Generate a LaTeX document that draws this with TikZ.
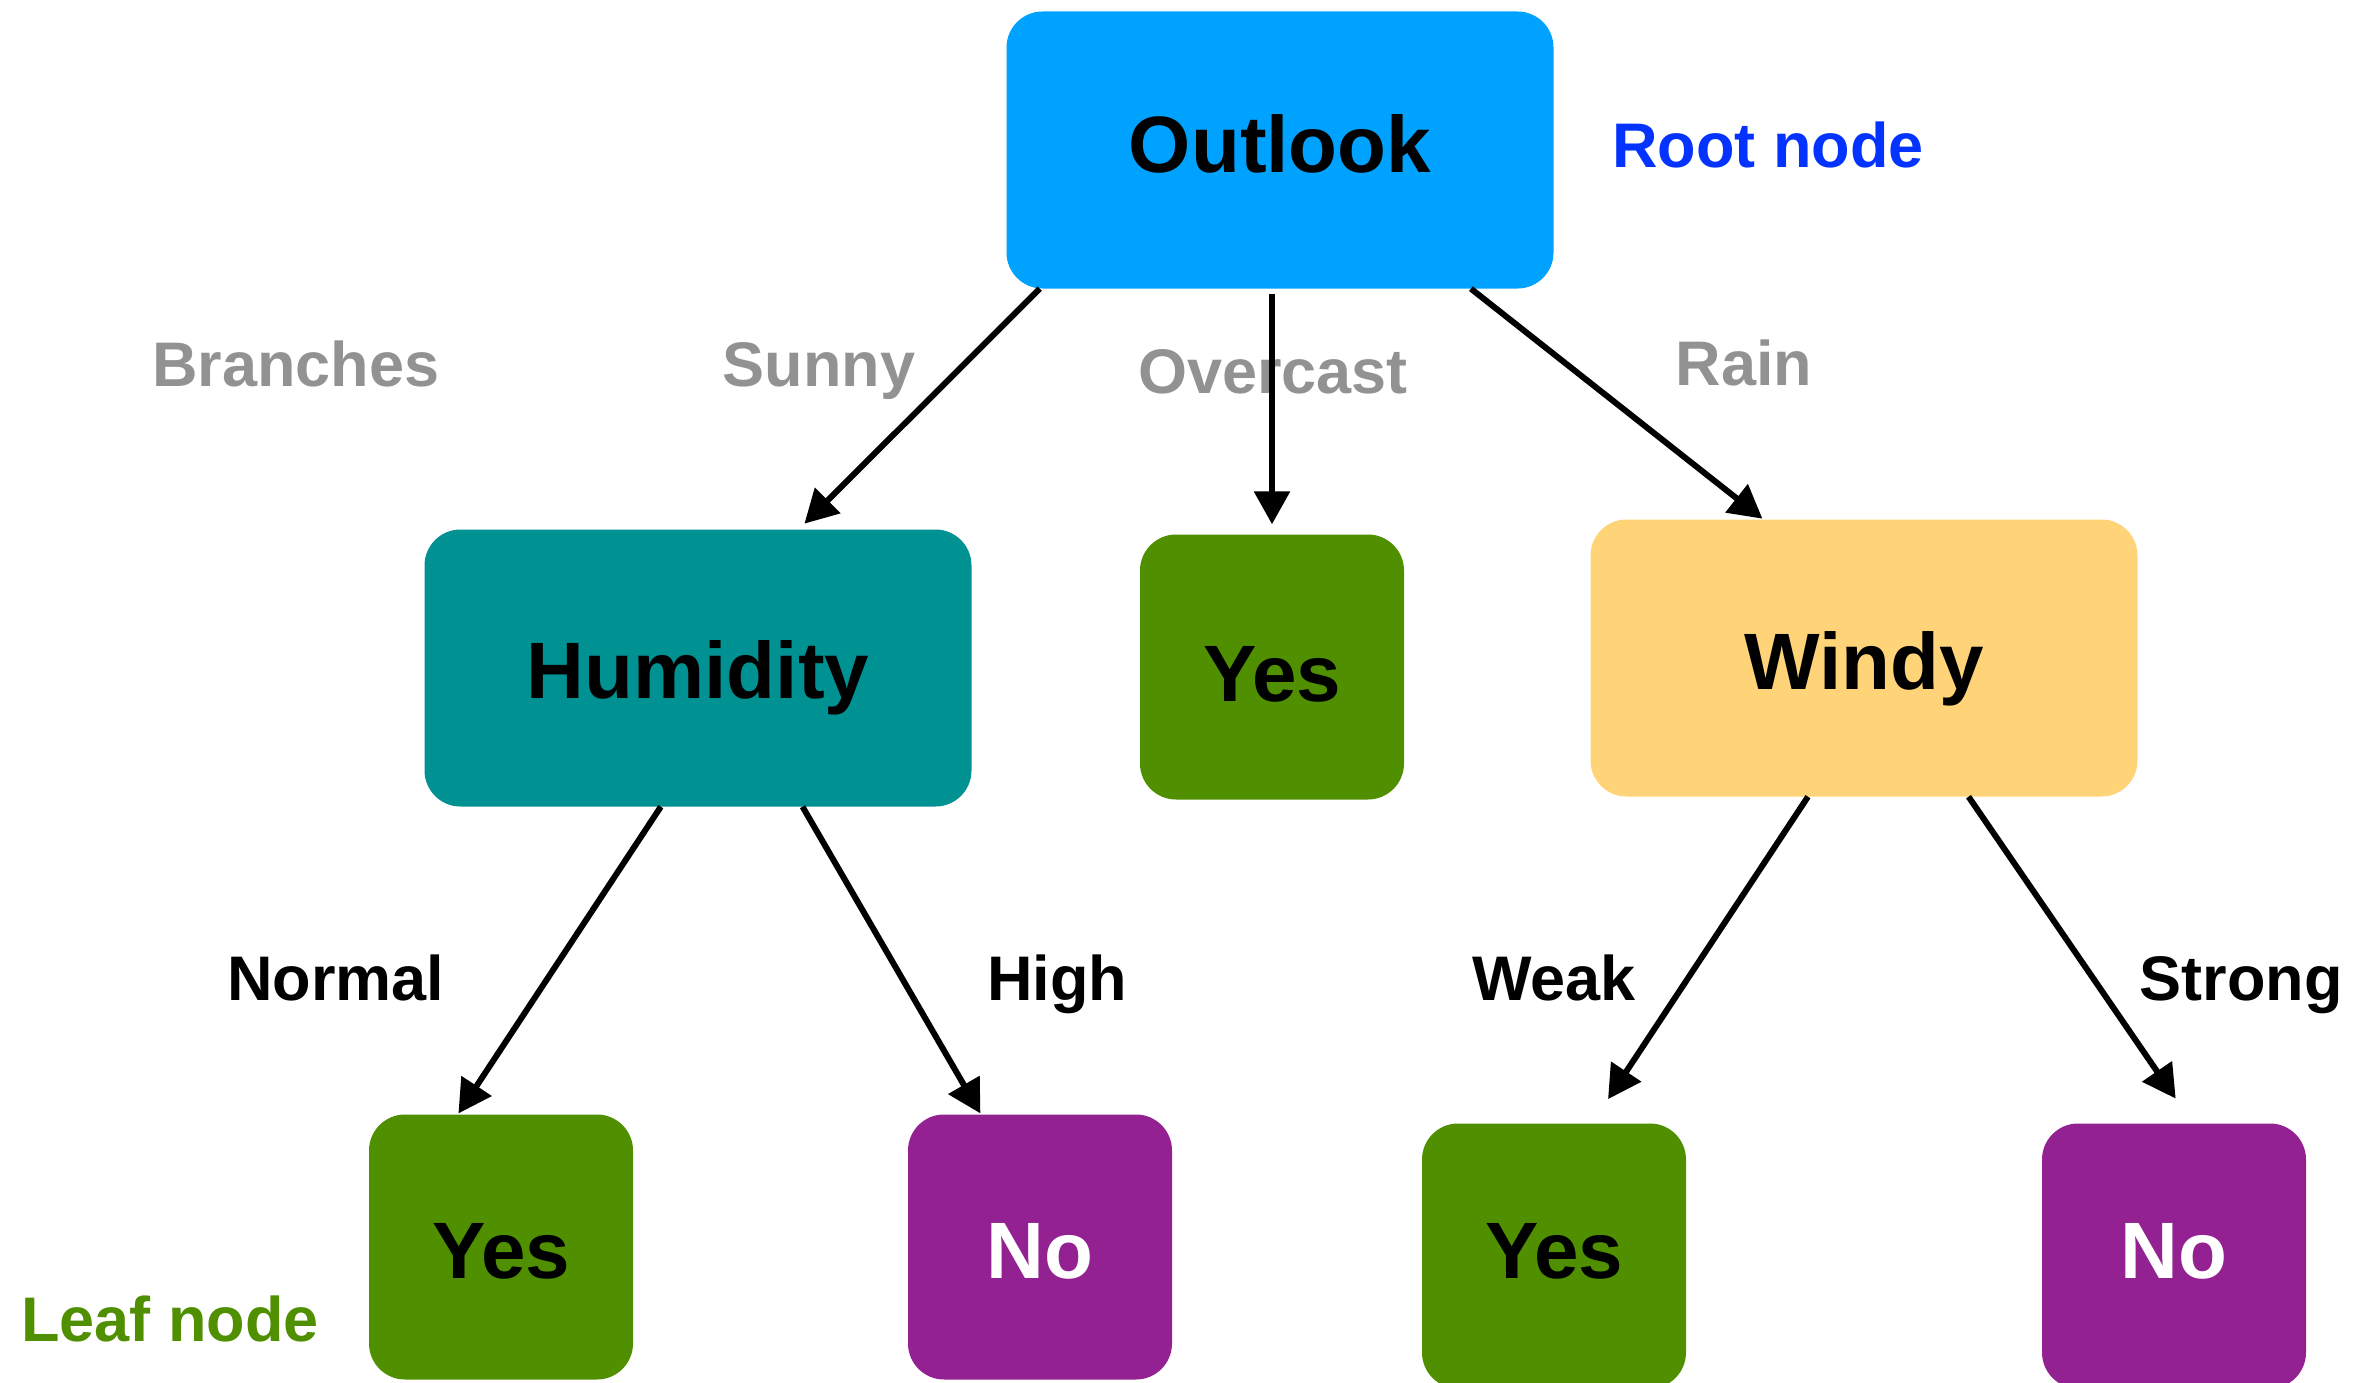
\documentclass[tikz,border=0pt]{standalone}
\usepackage{fontspec}
\setmainfont{Liberation Sans}
\usetikzlibrary{arrows.meta}

\definecolor{rootblue}{HTML}{00A2FF}
\definecolor{humteal}{HTML}{009193}
\definecolor{leafgreen}{HTML}{4F8F00}
\definecolor{windyyellow}{HTML}{FFD479}
\definecolor{nopurple}{HTML}{942192}
\definecolor{notegray}{HTML}{929292}
\definecolor{noteblue}{HTML}{0433FF}

\begin{document}
\begin{tikzpicture}[x=1pt, y=-1pt,
	basic/.style    = {rectangle, rounded corners=36pt, inner sep=0pt, font=\fontsize{80}{96}\selectfont\bfseries, text height=57pt, text depth=0pt},
	root/.style     = {basic, fill=rootblue, minimum width=547pt, minimum height=277pt},
	decision/.style = {basic, minimum width=547pt, minimum height=277pt},
	leaf/.style     = {basic, minimum width=264pt, minimum height=265pt},
	branch/.style   = {font=\fontsize{63}{76}\selectfont\bfseries, anchor=base, inner sep=0pt},
	edge/.style     = {-{Triangle[length=33pt,width=35pt]}, line width=6pt}]
	
	\useasboundingbox (0,0) rectangle (2362,1383);
	
	% Root of the tree
	\node[root, text depth=12pt] (outlook) at (1280,150) {Outlook};
	
	% Second level
	\node[decision, fill=humteal, text height=61pt] (humidity) at (698,668) {Humidity};
	\node[leaf, fill=leafgreen, text height=69pt] (overcast) at (1272,667) {Yes};
	\node[decision, fill=windyyellow, text height=63pt] (windy) at (1864,658) {Windy};
	
	% Leaves
	\node[leaf, fill=leafgreen, text height=63pt] (yes1) at (501,1247) {Yes};
	\node[leaf, fill=nopurple, text=white, text height=63pt] (no1) at (1040,1247) {No};
	\node[leaf, fill=leafgreen, text depth=12pt] (yes2) at (1554,1256) {Yes};
	\node[leaf, fill=nopurple, text=white, text depth=12pt] (no2) at (2174,1256) {No};
	
	% Notes and branch labels
	\node[branch, text=noteblue] (rootnote) at (1768,168) {Root node};
	\node[branch, text=leafgreen] (leafnote) at (170,1341) {Leaf node};
	\begin{scope}[every node/.style={branch, text=notegray}]
	\node (branches) at (296,386) {Branches};
	\node (sunny) at (819,386) {Sunny};
	\node (cloudy) at (1273,393) {Overcast};
	\node (rain) at (1744,385) {Rain};
	\end{scope}
	\node[branch] (normal) at (336,1000) {Normal};
	\node[branch] (high) at (1057,1000) {High};
	\node[branch] (weak) at (1554,1000) {Weak};
	\node[branch] (strong) at (2241,1000) {Strong};
	
	% Arrows from each node to its children
	\foreach \from/\to/\gap in {outlook.210/humidity.54/8pt, outlook.-36/windy.126/1pt,
		humidity.255/yes1.108/1pt, humidity.-53/no1.114/1pt,
		windy.248/yes2.74/29pt, windy.-53/no2.82/30pt}
	\draw[edge, shorten >=\gap] (\from) -- (\to);
	
	\draw[edge, shorten <=5pt, shorten >=10pt] (outlook.south -| overcast.north) -- (overcast.north);
	
\end{tikzpicture}
\end{document}
